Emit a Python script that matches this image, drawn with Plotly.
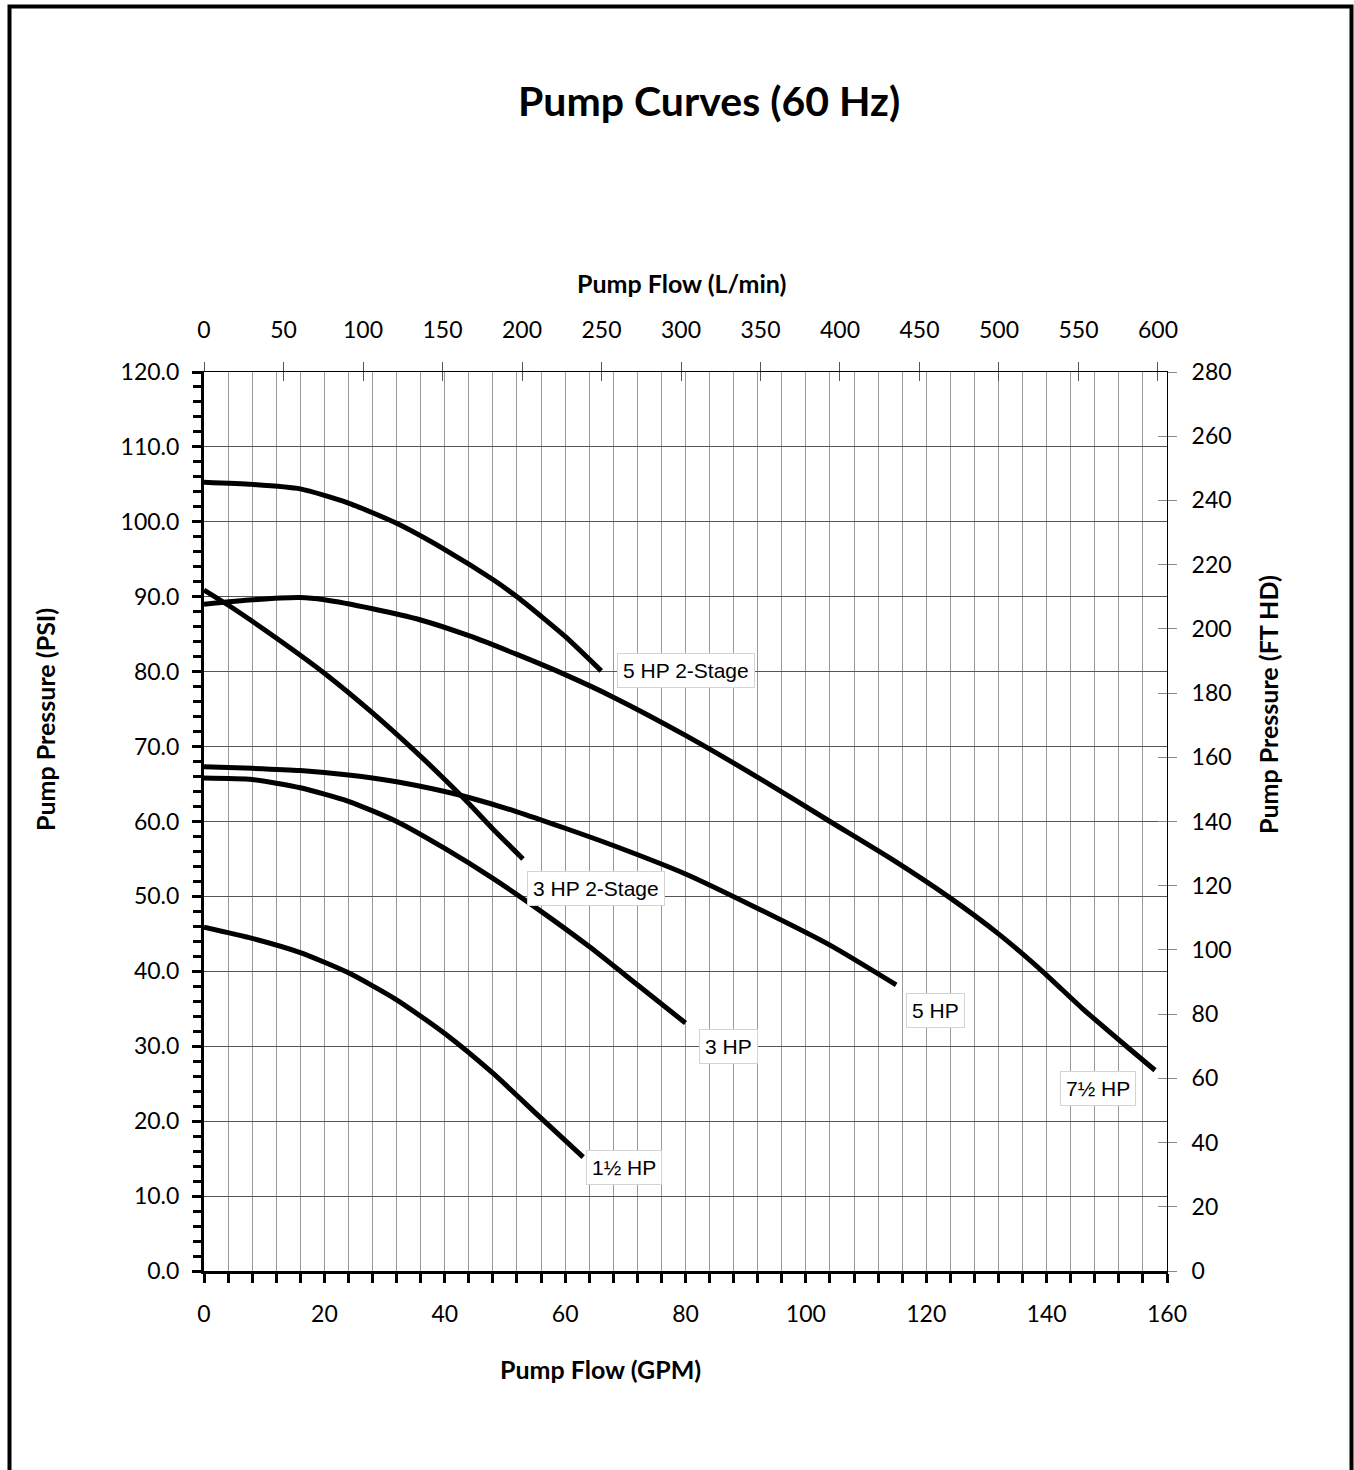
import plotly.graph_objects as go

# ---------------- data ----------------
gpm_5hp_2stage = [0, 8, 16, 24, 32, 40, 48, 52, 56, 60, 66]
psi_5hp_2stage = [105.3, 105.0, 104.4, 102.5, 99.8, 96.3, 92.3, 90.0, 87.4, 84.7, 80.1]

gpm_7_5hp = [0, 8, 16, 20, 28, 36, 44, 52, 60, 68, 80, 92, 104, 114, 123.6, 132, 139.3, 146, 153.4, 158]
psi_7_5hp = [89.0, 89.6, 89.9, 89.6, 88.4, 86.9, 84.8, 82.3, 79.6, 76.6, 71.5, 65.9, 60.0, 55.1, 50.0, 45.0, 40.0, 35.0, 29.9, 26.8]

gpm_3hp_2stage = [0, 4, 12, 20, 28, 36, 40, 44, 48, 53]
psi_3hp_2stage = [90.9, 88.9, 84.5, 79.8, 74.5, 68.7, 65.6, 62.4, 59.0, 55.0]

gpm_5hp = [0, 8, 16, 24, 32, 40, 44, 52, 60, 68, 80, 92, 104, 115]
psi_5hp = [67.3, 67.1, 66.8, 66.2, 65.3, 64.0, 63.2, 61.3, 59.1, 56.8, 53.0, 48.4, 43.5, 38.2]

gpm_3hp = [0, 8, 16, 24, 32, 40, 48, 56, 64, 72, 80]
psi_3hp = [65.8, 65.6, 64.5, 62.7, 60.0, 56.4, 52.4, 48.0, 43.3, 38.2, 33.1]

gpm_1_5hp = [0, 8, 16, 24, 32, 40, 48, 56, 63]
psi_1_5hp = [45.9, 44.4, 42.5, 39.8, 36.2, 31.7, 26.4, 20.4, 15.2]

series_names = ["5 HP 2-Stage", "7½ HP", "3 HP 2-Stage", "5 HP", "3 HP", "1½ HP"]
series_x = [gpm_5hp_2stage, gpm_7_5hp, gpm_3hp_2stage, gpm_5hp, gpm_3hp, gpm_1_5hp]
series_y = [psi_5hp_2stage, psi_7_5hp, psi_3hp_2stage, psi_5hp, psi_3hp, psi_1_5hp]

# curve label positions (GPM, PSI)
label_x = [80.1, 148.5, 65.1, 121.6, 87.2, 69.8]
label_y = [80.1, 24.3, 51.1, 34.8, 30.0, 13.75]

GPM_TO_LPM = 3.785411784
PSI_TO_FT = 2.31
x_range = [0, 160]
y_range = [0, 120]
ft_range = [0, 280]

# ---------------- layout geometry ----------------
W, H = 1354, 1470
L, R, T, B = 204, 1167, 372, 1271


def px(xp):
    return (xp - L) / (R - L)


def py(yp):
    return (B - yp) / (B - T)


CAL = "Lato, 'Open Sans', sans-serif"
ARIAL = "'Liberation Sans', Arial, sans-serif"

fig = go.Figure()
for name, xs, ys in zip(series_names, series_x, series_y):
    fig.add_trace(go.Scatter(
        x=xs, y=ys, mode="lines", name=name,
        line=dict(color="black", width=5, shape="spline", smoothing=0.6),
        showlegend=False, hoverinfo="skip",
    ))

# invisible copies in L/min and ft of head so that the secondary axes are drawn
for xa, ya in [("x2", "y2"), ("x3", "y3")]:
    fig.add_trace(go.Scatter(
        x=[g * GPM_TO_LPM for g in gpm_7_5hp], y=[p * PSI_TO_FT for p in psi_7_5hp],
        xaxis=xa, yaxis=ya, mode="lines", opacity=0, line=dict(width=0),
        showlegend=False, hoverinfo="skip",
    ))

for name, lx, ly in zip(series_names, label_x, label_y):
    fig.add_annotation(
        x=lx, y=ly, xref="x", yref="y", text=name, showarrow=False,
        xanchor="center", yanchor="middle",
        font=dict(family=ARIAL, size=21, color="black"),
        bgcolor="white", bordercolor="#d4d4d4", borderwidth=1, borderpad=5,
    )

tickfont = dict(family=CAL, size=23, color="black")

fig.update_layout(
    width=W, height=H,
    margin=dict(l=L, r=W - R, t=T, b=H - B, pad=0),
    paper_bgcolor="white", plot_bgcolor="white",
    showlegend=False,
    xaxis=dict(
        range=x_range, tick0=0, dtick=20, showgrid=True, gridcolor="#9a9a9a", gridwidth=1,
        zeroline=False, showline=True, linecolor="black", linewidth=3,
        ticks="outside", ticklen=9, tickwidth=3, tickcolor="black",
        tickfont=tickfont, ticklabelstandoff=11,
        minor=dict(dtick=4, tick0=0, ticks="outside", ticklen=9, tickwidth=3, tickcolor="black",
                   showgrid=True, gridcolor="#9a9a9a", gridwidth=1),
    ),
    yaxis=dict(
        range=y_range, tick0=0, dtick=10, tickformat=".1f", showgrid=True, gridcolor="#555555", gridwidth=1,
        zeroline=False, showline=True, linecolor="black", linewidth=3,
        ticks="outside", ticklen=9, tickwidth=3, tickcolor="black",
        tickfont=tickfont, ticklabelstandoff=8,
        minor=dict(dtick=2, tick0=0, ticks="outside", ticklen=8, tickwidth=3, tickcolor="black", showgrid=False),
    ),
    xaxis2=dict(
        overlaying="x", side="top", anchor="y2",
        range=[x_range[0] * GPM_TO_LPM, x_range[1] * GPM_TO_LPM], tick0=0, dtick=50,
        showgrid=False, zeroline=False, showline=True, linecolor="black", linewidth=1,
        ticks="outside", ticklen=9, tickwidth=1, tickcolor="#555555",
        tickfont=tickfont, ticklabelstandoff=15,
    ),
    xaxis3=dict(
        overlaying="x", side="top", anchor="y3",
        range=[x_range[0] * GPM_TO_LPM, x_range[1] * GPM_TO_LPM], tick0=0, dtick=50,
        showgrid=False, zeroline=False, showline=False, showticklabels=False,
        ticks="inside", ticklen=9, tickwidth=1, tickcolor="#555555",
    ),
    yaxis2=dict(
        overlaying="y", side="right", anchor="x2",
        range=ft_range, tick0=0, dtick=20,
        showgrid=False, zeroline=False, showline=True, linecolor="black", linewidth=1,
        ticks="outside", ticklen=9, tickwidth=1, tickcolor="#888888",
        tickfont=tickfont, ticklabelstandoff=10,
    ),
    yaxis3=dict(
        overlaying="y", side="right", anchor="x3",
        range=ft_range, tick0=0, dtick=20,
        showgrid=False, zeroline=False, showline=False, showticklabels=False,
        ticks="inside", ticklen=9, tickwidth=1, tickcolor="#888888",
    ),
)

# titles
title_kw = dict(xref="paper", yref="paper", showarrow=False, xanchor="center", yanchor="middle")
fig.add_annotation(text="<b>Pump Curves (60 Hz)</b>", x=px(709), y=py(100),
                   font=dict(family=CAL, size=41, color="black"), **title_kw)
fig.add_annotation(text="<b>Pump Flow (L/min)</b>", x=px(681), y=py(283),
                   font=dict(family=CAL, size=25, color="black"), **title_kw)
fig.add_annotation(text="<b>Pump Flow (GPM)</b>", x=px(600), y=py(1369),
                   font=dict(family=CAL, size=25, color="black"), **title_kw)
fig.add_annotation(text="<b>Pump Pressure (PSI)</b>", x=px(45), y=py(720), textangle=-90,
                   font=dict(family=CAL, size=25, color="black"), **title_kw)
fig.add_annotation(text="<b>Pump Pressure (FT HD)</b>", x=px(1268), y=py(705), textangle=-90,
                   font=dict(family=CAL, size=25, color="black"), **title_kw)

# outer frame
fig.add_shape(type="rect", xref="paper", yref="paper",
              x0=px(9.5), x1=px(1351.5), y0=py(1490), y1=py(6.5),
              line=dict(color="black", width=4), fillcolor="rgba(0,0,0,0)", layer="above")

fig.write_html("out.html", config={"displayModeBar": False},
               post_script="document.body.style.margin='0';")
